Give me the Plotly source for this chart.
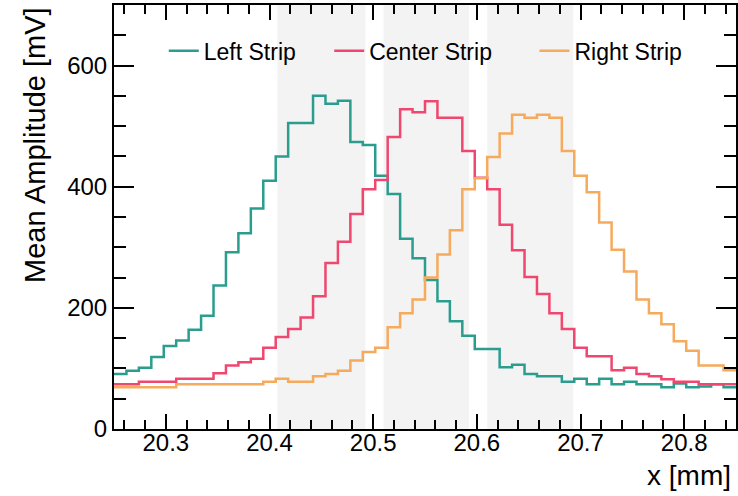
import numpy as np
import plotly.graph_objects as go

# Binning (50 bins of 0.012 mm from 20.25 to 20.85)
x_min, x_max, n_bins = 20.25, 20.85, 50
edges = np.linspace(x_min, x_max, n_bins + 1)

left_strip = [91, 96, 101, 119, 137, 146, 164, 187, 237, 292, 323, 364, 410, 450, 505, 505, 550,
              537, 542, 474, 469, 418, 388, 314, 282, 246, 211, 178, 154, 132, 132, 102, 106, 91,
              87, 87, 78, 83, 74, 83, 74, 78, 74, 74, 69, 75, 69, 70, 74, 69]
center_strip = [74, 74, 78, 78, 78, 83, 83, 83, 92, 105, 110, 116, 134, 152, 165, 184, 219,
                274, 309, 355, 396, 411, 482, 528, 523, 541, 514, 514, 459, 415, 396, 337, 295,
                251, 223, 191, 165, 134, 120, 120, 97, 101, 91, 87, 82, 78, 78, 74, 74, 74]
right_strip = [69, 69, 69, 69, 69, 74, 74, 74, 74, 74, 74, 74, 78, 83, 78, 78, 87,
               91, 96, 113, 127, 134, 168, 191, 214, 250, 288, 328, 396, 414, 449, 488, 519,
               514, 519, 514, 459, 418, 391, 341, 296, 260, 214, 191, 173, 145, 129, 105, 105, 97]

names = ["Left Strip", "Center Strip", "Right Strip"]
colors = ["#2a9d8f", "#ef476f", "#f6aa5c"]
strip_regions = [(20.4075, 20.4925), (20.51, 20.5925), (20.61, 20.693)]
x_tick_vals = [20.3, 20.4, 20.5, 20.6, 20.7, 20.8]
x_tick_text = ["20.3", "20.4", "20.5", "20.6", "20.7", "20.8"]
y_tick_vals = [0, 200, 400, 600]

FONT = "Liberation Sans, Arial, Helvetica, sans-serif"

fig = go.Figure()
legend_ids = ["legend", "legend2", "legend3"]
for vals, name, col, lid in zip([left_strip, center_strip, right_strip], names, colors, legend_ids):
    fig.add_trace(go.Scatter(
        x=edges, y=list(vals) + [vals[-1]],
        mode="lines", line=dict(color=col, width=2.5, shape="hv"),
        name=name, legend=lid, showlegend=True, hoverinfo="skip",
    ))

# shaded strip regions
for x0, x1 in strip_regions:
    fig.add_shape(type="rect", xref="x", yref="y", x0=x0, x1=x1, y0=0, y1=700,
                  fillcolor="#f3f3f3", line=dict(width=0), layer="below")
# white legend band
fig.add_shape(type="rect", xref="paper", yref="y", x0=0.05, x1=0.97, y0=586, y1=664,
              fillcolor="white", line=dict(width=0), layer="below")

leg_common = dict(orientation="h", yanchor="middle", xanchor="left", y=0.892,
                  bgcolor="rgba(0,0,0,0)", font=dict(family=FONT, size=23, color="black"))
fig.update_layout(
    showlegend=True,
    legend=dict(x=0.0800, **leg_common),
    legend2=dict(x=0.3460, **leg_common),
    legend3=dict(x=0.6760, **leg_common),
)

axis_common = dict(showline=True, linecolor="black", linewidth=2, mirror="allticks",
                   ticks="inside", tickcolor="black", tickwidth=1.5,
                   showgrid=False, zeroline=False, automargin=False,
                   tickfont=dict(family=FONT, size=24, color="black"))
fig.update_xaxes(range=[x_min, x_max], tickvals=x_tick_vals, ticktext=x_tick_text, ticklen=15,
                 ticklabelstandoff=-9,
                 minor=dict(dtick=0.02, tick0=20.3, ticks="inside", ticklen=9,
                            tickcolor="black", tickwidth=1.5, showgrid=False),
                 **axis_common)
fig.update_yaxes(range=[0, 700], tickvals=y_tick_vals, ticklen=20,
                 minor=dict(dtick=50, tick0=0, ticks="inside", ticklen=12,
                            tickcolor="black", tickwidth=1.5, showgrid=False),
                 **axis_common)

fig.add_annotation(text="Mean Amplitude [mV]", xref="paper", yref="paper",
                   x=-0.127, y=1.0, xanchor="center", yanchor="top", textangle=-90,
                   showarrow=False, font=dict(family=FONT, size=29, color="black"))
fig.add_annotation(text="x [mm]", xref="paper", yref="paper", borderpad=0,
                   x=0.994, y=-0.148, xanchor="right", yanchor="bottom",
                   showarrow=False, font=dict(family=FONT, size=28, color="black"))

fig.update_layout(
    width=738, height=496,
    margin=dict(l=114, r=2, t=5, b=67),
    plot_bgcolor="white", paper_bgcolor="white",
    font=dict(family=FONT, color="black"),
)

fig.write_html("out.html", config={"displayModeBar": False},
               post_script="document.body.style.margin='0px';")
